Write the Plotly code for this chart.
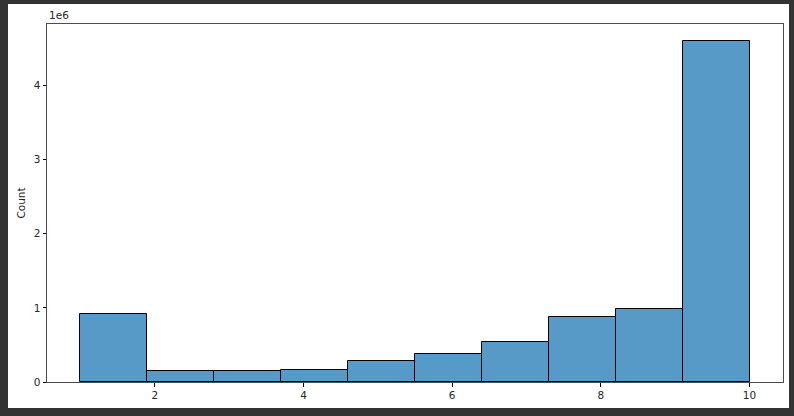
import plotly.graph_objects as go

bin_edges = [1.0, 1.9, 2.8, 3.7, 4.6, 5.5, 6.4, 7.3, 8.2, 9.1, 10.0]
counts = [920000, 144000, 144000, 166000, 283000, 373000, 543000, 872000, 988000, 4600000]
x_ticks = [2, 4, 6, 8, 10]
y_ticks = [0, 1e6, 2e6, 3e6, 4e6]
y_tick_labels = ["0", "1", "2", "3", "4"]

centers = [(a + b) / 2 for a, b in zip(bin_edges[:-1], bin_edges[1:])]
widths = [b - a for a, b in zip(bin_edges[:-1], bin_edges[1:])]

W, H = 794, 416
L, R, T, B = 47, 11, 24, 34
pw, ph = W - L - R, H - T - B

fig = go.Figure()
fig.add_trace(go.Bar(
    x=centers, y=counts, width=widths,
    marker=dict(color="rgba(31,119,180,0.75)", line=dict(color="black", width=1)),
    hoverinfo="x+y",
))

xmin, xmax = bin_edges[0], bin_edges[-1]
pad = (xmax - xmin) * 0.05
ymax = max(counts) * 1.05

font = dict(family="DejaVu Sans", size=10.5, color="#262626")
fig.update_layout(
    width=W, height=H,
    margin=dict(l=L, r=R, t=T, b=B, pad=0),
    paper_bgcolor="#333333",
    plot_bgcolor="white",
    showlegend=False,
    font=font,
    bargap=0,
    xaxis=dict(range=[xmin - pad, xmax + pad], tickvals=x_ticks, ticks="outside",
               ticklen=3.5, tickwidth=0.8, tickcolor="black", showgrid=False,
               zeroline=False, showline=True, linecolor="#4d4d4d", linewidth=1,
               mirror=True, tickfont=font),
    yaxis=dict(range=[0, ymax], tickvals=y_ticks, ticktext=y_tick_labels,
               ticks="outside", ticklen=3.5, tickwidth=0.8, tickcolor="black",
               showgrid=False, zeroline=False, showline=True, linecolor="#4d4d4d",
               linewidth=1, mirror=True, tickfont=font,
               title=dict(text="Count", font=font, standoff=6)),
    shapes=[dict(type="rect", xref="paper", yref="paper", layer="below",
                 x0=(8 - L) / pw, x1=(789 - L) / pw,
                 y0=(H - B - 408) / ph, y1=(H - B - 4) / ph,
                 fillcolor="white", line=dict(width=0))],
    annotations=[dict(text="1e6", xref="paper", yref="paper", x=0, y=1,
                      xanchor="left", yanchor="bottom", showarrow=False,
                      font=font, yshift=1)],
)

fig.write_html("out.html", config={"displayModeBar": False},
               post_script="document.body.style.margin='0';document.body.style.overflow='hidden';")
